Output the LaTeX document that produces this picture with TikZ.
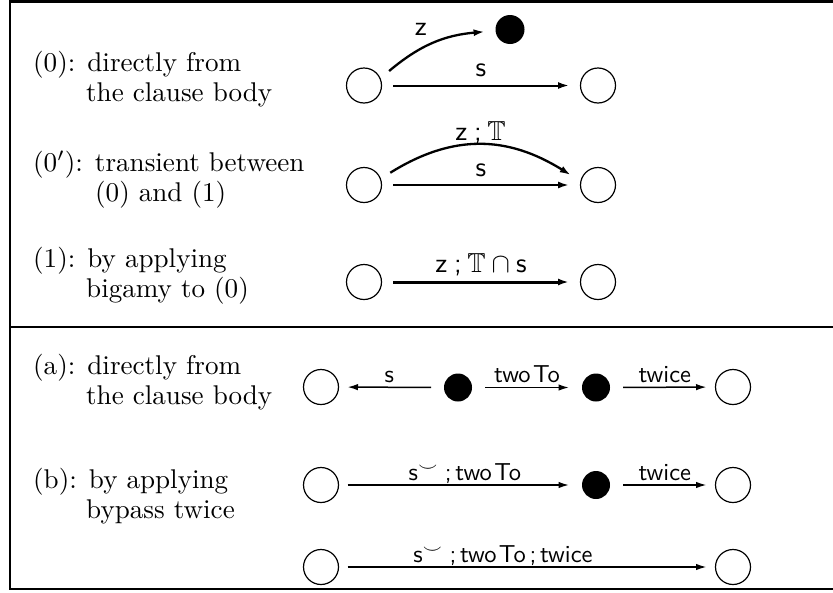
\documentclass[tikz,border=0pt]{standalone}
\usepackage{amssymb}
\usetikzlibrary{arrows.meta}
\newcommand\desc[1]{\scalebox{2.71}{#1}}
\newcommand\toplab[1]{\scalebox{2.75}{\sffamily #1}}
\newcommand\botlab[1]{\scalebox{2.45}{\sffamily #1}}
\begin{document}
\begin{tikzpicture}[x=1pt,y=1pt,
  txtnode/.style={anchor=base west, inner sep=0},
  opencirc/.style={circle, draw, line width=1.2pt, minimum size=35pt, inner sep=0},
  blackdot/.style={circle, fill, minimum size=29pt, inner sep=0},
  smalldot/.style={circle, fill, minimum size=28pt, inner sep=0},
  tarr/.style={-{Latex[length=11pt,width=7pt]}, line width=2pt},
  barr/.style={-{Latex[length=10.5pt,width=6.5pt]}, line width=1.5pt},
  lab/.style={anchor=base, inner sep=0},
  framelines/.style={line width=2.6pt}]
\useasboundingbox (0,0) rectangle (833,-592);
% frame
\draw[framelines] (836,-1.3) -- (10,-1.3) -- (10,-589) -- (836,-589);
\draw[framelines] (10,-327) -- (836,-327);
% descriptions
\node[txtnode] (t0a) at (33,-71) {\desc{(0): directly from}};
\node[txtnode] (t0b) at (86,-101) {\desc{the clause body}};
\node[txtnode] (t1a) at (33,-171) {\desc{(0$'$): transient between}};
\node[txtnode] (t1b) at (95,-201) {\desc{(0) and (1)}};
\node[txtnode] (t2a) at (33,-267) {\desc{(1): by applying}};
\node[txtnode] (t2b) at (86,-297) {\desc{bigamy to (0)}};
\node[txtnode] (t3a) at (33,-374) {\desc{(a): directly from}};
\node[txtnode] (t3b) at (86,-404) {\desc{the clause body}};
\node[txtnode] (t4a) at (33,-488) {\desc{(b): by applying}};
\node[txtnode] (t4b) at (86,-518) {\desc{bypass twice}};
% row (0)
\node[opencirc, outer sep=11.5pt] (c0) at (364,-85.5) {};
\node[blackdot, outer sep=11pt] (d0) at (510,-29.5) {};
\node[opencirc, outer sep=11.5pt] (e0) at (598,-85.5) {};
\draw[tarr] (c0) -- node[lab, yshift=9pt]{\toplab{s}} (e0);
\draw[tarr, line width=2.3pt] (c0.30) to[out=40,in=185] node[lab, pos=0.3, xshift=5pt, yshift=16pt]{\toplab{z}} (d0.185);
% row (0')
\node[opencirc, outer sep=11.5pt] (c1) at (364,-185) {};
\node[opencirc, outer sep=11.5pt] (e1) at (598,-185) {};
\draw[tarr] (c1) -- node[lab, yshift=9pt]{\toplab{s}} (e1);
\draw[tarr, line width=2.3pt] (c1.25) to[out=32,in=148,looseness=1.05] node[lab, pos=0.5, yshift=4pt]{\toplab{z\hspace{0.25em};\hspace{0.2em}$\mathbb{T}$}} (e1.160);
% row (1)
\node[opencirc, outer sep=11.5pt] (c2) at (364,-282) {};
\node[opencirc, outer sep=11.5pt] (e2) at (598,-282) {};
\draw[tarr, line width=3pt] (c2) -- node[lab, yshift=10pt]{\toplab{z\hspace{0.25em};\hspace{0.2em}$\mathbb{T}\cap{}$s}} (e2);
% row (a)
\node[opencirc, outer sep=9pt] (A1) at (321,-387) {};
\node[smalldot, outer sep=13pt] (A2) at (458,-387.5) {};
\node[smalldot, outer sep=13pt] (A3) at (596,-387.5) {};
\node[opencirc, outer sep=9pt] (A4) at (733,-387) {};
\draw[barr] (A2) -- node[lab, yshift=5pt]{\botlab{s}} (A1);
\draw[barr] (A2) -- node[lab, yshift=5pt]{\botlab{two\hspace{0.1em}To}} (A3);
\draw[barr] (A3) -- node[lab, yshift=5pt]{\botlab{twice}} (A4);
% row (b)
\node[opencirc, outer sep=9pt] (B1) at (321,-485) {};
\node[smalldot, outer sep=13pt] (B3) at (596,-485) {};
\node[opencirc, outer sep=9pt] (B4) at (733,-485) {};
\draw[barr] (B1) -- node[lab, pos=0.53, yshift=5pt]{\botlab{s$^{\smile}$\hspace{0.25em};\hspace{0.15em}two\hspace{0.1em}To}} (B3);
\draw[barr] (B3) -- node[lab, yshift=5pt]{\botlab{twice}} (B4);
% row (c)
\node[opencirc, outer sep=9pt] (C1) at (321,-567) {};
\node[opencirc, outer sep=9pt] (C4) at (733,-567) {};
\draw[barr] (C1) -- node[lab, pos=0.433, yshift=5pt]{\botlab{s$^{\smile}$\hspace{0.25em};\hspace{0.15em}two\hspace{0.1em}To\hspace{0.15em};\hspace{0.15em}twice}} (C4);
\end{tikzpicture}
\end{document}
